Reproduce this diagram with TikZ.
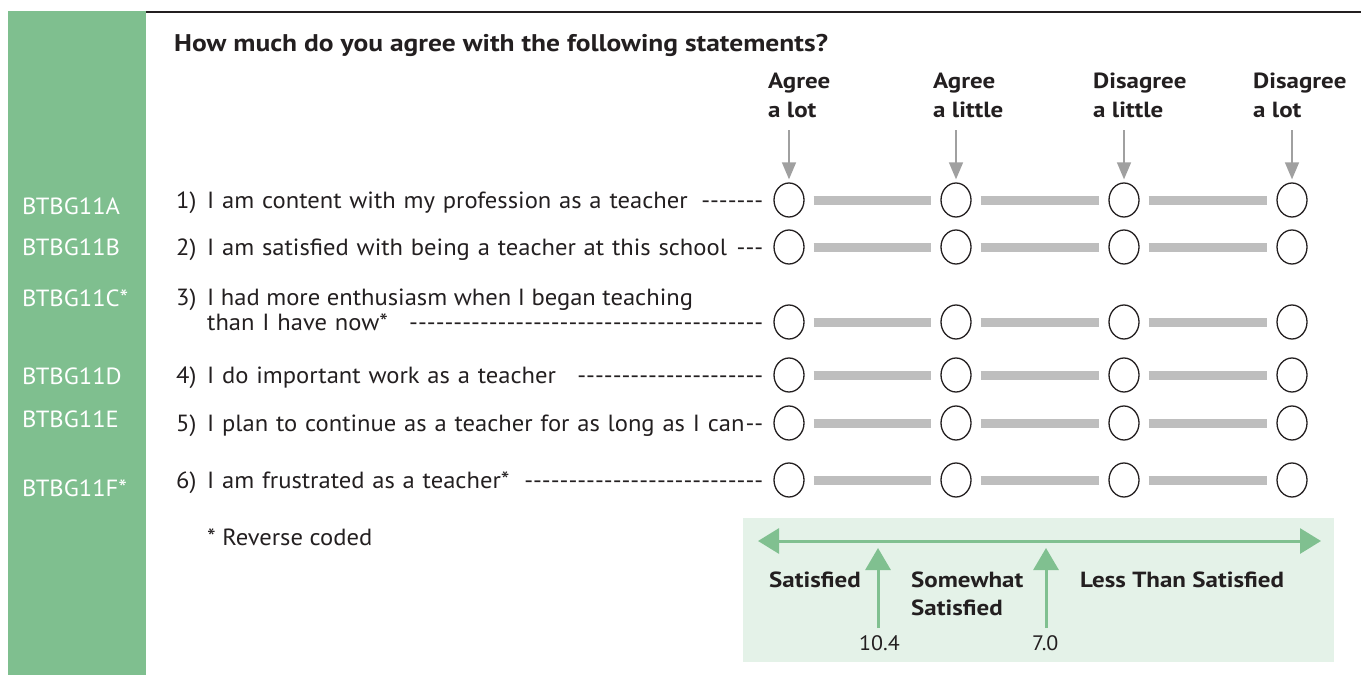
\documentclass[tikz,border=0pt]{standalone}
\usepackage{fontspec}
\setmainfont{PT Sans}[FakeStretch=1.05]
\newfontfamily\wideb{PT Sans}[FakeStretch=1.14]
\usetikzlibrary{arrows.meta,shapes.geometric}
\definecolor{side}{RGB}{127,191,143}
\definecolor{boxg}{RGB}{228,242,232}
\definecolor{arrgreen}{RGB}{128,192,144}
\definecolor{barg}{RGB}{190,190,190}
\definecolor{arrg}{RGB}{160,160,160}
\definecolor{ink}{RGB}{35,31,32}
\newcommand\dashrun[1]{\nobreak\hfill\hbox{\foreach \i in {1,...,#1}{\hbox{-}}}}
\begin{document}
\begin{tikzpicture}[x=1bp,y=-1bp,
  txt/.style={font=\fontsize{23.5}{28}\selectfont, text=ink, inner sep=0pt, anchor=base west},
  stmt/.style={txt, text width=556bp, align=left},
  hdr/.style={font=\wideb\fontsize{22}{26}\selectfont\bfseries, text=ink, inner sep=0pt, anchor=base west},
  ttl/.style={hdr, font=\wideb\fontsize{24.2}{28}\selectfont\bfseries},
  code/.style={font=\fontsize{23.5}{28}\selectfont, text=white, inner sep=0pt, anchor=base west},
  num/.style={txt, font=\fontsize{21}{25}\selectfont},
  circ/.style={draw=ink, line width=1.3bp, ellipse, minimum width=30bp, minimum height=34bp, inner sep=0pt},
  bar/.style={draw=barg, line width=9bp, shorten >=9bp, shorten <=9bp},
  garrow/.style={draw=arrg, line width=1.5bp, shorten >=3bp, -{Triangle[width=14bp,length=17bp]}},
  uparrow/.style={draw=arrgreen, line width=3bp, -{Triangle[width=25bp,length=22bp]}},
]
\useasboundingbox (0,0) rectangle (1361,675);
% sidebar and top rule
\fill[side] (8,11) rectangle (146,675);
\coordinate (tl) at (146,12);
\coordinate (tr) at (1361,12);
\draw[ink, line width=2.5bp] (tl) -- (tr);

% title
\node[ttl] (title) at (174,52) {How much do you agree with the following statements?};

% column headers
\node[hdr] (h1a) at (768,89) {Agree};
\node[hdr] (h1b) at (768,118) {a lot};
\node[hdr] (h2a) at (933,89) {Agree};
\node[hdr] (h2b) at (933,118) {a little};
\node[hdr] (h3a) at (1093,89) {Disagree};
\node[hdr] (h3b) at (1093,118) {a little};
\node[hdr] (h4a) at (1253,89) {Disagree};
\node[hdr] (h4b) at (1253,118) {a lot};

% circles and bars
\foreach \r/\y in {1/200,2/247,3/322,4/375,5/423,6/480}{
  \foreach \c/\x in {1/789,2/956,3/1124,4/1292}{
    \node[circ] (c\r\c) at (\x,\y) {};
  }
  \draw[bar] (c\r1) -- (c\r2);
  \draw[bar] (c\r2) -- (c\r3);
  \draw[bar] (c\r3) -- (c\r4);
}

% gray arrows
\foreach \c/\x in {1/789,2/956,3/1124,4/1292}{
  \coordinate (a\c) at (\x,130);
  \draw[garrow] (a\c) -- (c1\c);
}

% codes
\node[code] (k1) at (22,214) {BTBG11A};
\node[code] (k2) at (22,255) {BTBG11B};
\node[code] (k3) at (22,306) {BTBG11C*};
\node[code] (k4) at (22,384) {BTBG11D};
\node[code] (k5) at (22,427) {BTBG11E};
\node[code] (k6) at (22,496) {BTBG11F*};

% numbers
\node[txt] (n1) at (176,208) {1)};
\node[txt] (n2) at (176,255) {2)};
\node[txt] (n3) at (176,305) {3)};
\node[txt] (n4) at (176,383) {4)};
\node[txt] (n5) at (176,431) {5)};
\node[txt] (n6) at (176,488) {6)};

% statements
\node[stmt] (s1) at (207,208) {I am content with my profession as a teacher \dashrun{7}};
\node[stmt] (s2) at (207,255) {I am satisfied with being a teacher at this school\dashrun{3}};
\node[txt] (s3a) at (207,305) {I had more enthusiasm when I began teaching};
\node[stmt] (s3b) at (207,330) {than I have now* \dashrun{40}};
\node[stmt] (s4) at (207,383) {I do important work as a teacher \dashrun{21}};
\node[stmt] (s5) at (207,431) {I plan to continue as a teacher for as long as I can\dashrun{2}};
\node[stmt] (s6) at (207,488) {I am frustrated as a teacher* \dashrun{27}};

\node[txt] (rev) at (207,545) {* Reverse coded};

% bottom scale box
\fill[boxg] (743,518) rectangle (1334,662);
\coordinate (dl) at (758,541);
\coordinate (dr) at (1321,541);
\draw[draw=arrgreen, line width=3bp, {Triangle[width=25bp,length=21bp]}-{Triangle[width=25bp,length=21bp]}] (dl) -- (dr);
\coordinate (u1b) at (878,628);
\coordinate (u1t) at (878,548);
\coordinate (u2b) at (1046,628);
\coordinate (u2t) at (1046,548);
\draw[uparrow] (u1b) -- (u1t);
\draw[uparrow] (u2b) -- (u2t);

\node[hdr] (l1) at (769,587) {Satisfied};
\node[hdr] (l2a) at (911,587) {Somewhat};
\node[hdr] (l2b) at (911,615) {Satisfied};
\node[hdr] (l3) at (1080,587) {Less Than Satisfied};
\node[num] (v1) at (859,650) {10.4};
\node[num] (v2) at (1032,650) {7.0};
\end{tikzpicture}
\end{document}
